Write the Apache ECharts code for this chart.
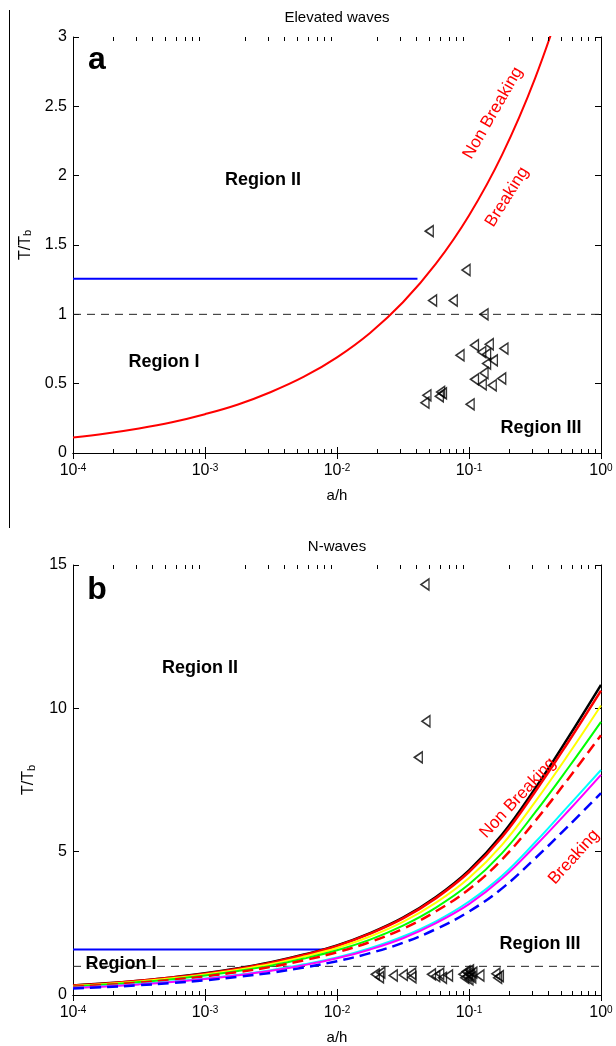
<!DOCTYPE html>
<html><head><meta charset="utf-8">
<script src="https://cdn.jsdelivr.net/npm/echarts@6/dist/echarts.min.js"></script>
<style>html,body{margin:0;padding:0;background:#fff}#c{width:616px;height:1046px}</style>
</head><body><div id="c"></div>
<script>
// ---- data ----
const xMin = 0.0001, xMax = 1;
const xMinorTicks = [0.0002,0.0003,0.0004,0.0005,0.0006,0.0007,0.0008,0.0009,
  0.002,0.003,0.004,0.005,0.006,0.007,0.008,0.009,
  0.02,0.03,0.04,0.05,0.06,0.07,0.08,0.09,
  0.2,0.3,0.4,0.5,0.6,0.7,0.8,0.9];

// Panel a: Elevated waves
const elevCurveX = [0.0001,0.000178,0.000316,0.000562,0.001,0.00178,0.00316,0.00562,0.01,0.0178,0.0316,0.0562,0.1,0.178,0.316,0.562];
const elevCurveY = [0.112,0.141,0.177,0.222,0.280,0.350,0.44,0.55,0.69,0.866,1.087,1.365,1.713,2.15,2.70,3.39];
const elevBlueX = [0.0001,0.0407];
const elevBlueY = 1.257;
const elevPtsX = [0.050,0.095,0.053,0.076,0.13,0.0855,0.11,0.1425,0.184,0.125,0.136,0.153,0.136,0.11,0.13,0.126,0.15,0.177,0.048,0.061,0.0596,0.0464,0.102,0.063];
const elevPtsY = [1.60,1.32,1.10,1.10,1.00,0.705,0.777,0.784,0.753,0.728,0.712,0.668,0.645,0.531,0.577,0.495,0.488,0.537,0.416,0.44,0.409,0.363,0.351,0.43];

// Panel b: N-waves
const nCurveX  = [0.0001,0.000178,0.000316,0.000562,0.001,0.00178,0.00316,0.00562,0.01,0.0178,0.0316,0.0562,0.1,0.178,0.316,0.562,1];
const nBlack   = [0.33,0.406,0.50,0.614,0.755,0.93,1.14,1.41,1.73,2.16,2.70,3.42,4.35,5.6,7.2,8.97,10.82];
const nRed     = [0.33,0.40,0.495,0.61,0.745,0.92,1.13,1.395,1.71,2.14,2.67,3.38,4.29,5.51,7.08,8.81,10.62];
const nYellow  = [0.313,0.386,0.475,0.583,0.717,0.883,1.08,1.34,1.64,2.04,2.55,3.22,4.08,5.24,6.73,8.37,10.10];
const nGreen   = [0.297,0.365,0.45,0.553,0.68,0.837,1.025,1.27,1.56,1.93,2.42,3.05,3.86,4.95,6.36,7.91,9.53];
const nRedDash = [0.284,0.35,0.43,0.528,0.65,0.80,0.98,1.21,1.49,1.85,2.31,2.92,3.69,4.73,6.06,7.53,9.06];
const nCyan    = [0.25,0.31,0.38,0.467,0.574,0.707,0.866,1.07,1.31,1.63,2.04,2.57,3.26,4.16,5.32,6.58,7.85];
const nMagenta = [0.244,0.30,0.37,0.454,0.559,0.688,0.843,1.04,1.28,1.59,1.98,2.51,3.17,4.06,5.19,6.41,7.68];
const nBlueDash= [0.224,0.276,0.34,0.418,0.513,0.632,0.775,0.96,1.18,1.46,1.82,2.30,2.91,3.72,4.76,5.88,7.04];
const nBlueX = [0.0001,0.0081];
const nBlueY = 1.59;
const nPtsX = [0.0195,0.021,0.0215,0.0267,0.0318,0.0368,0.037,0.052,0.056,0.06,0.063,0.07,0.09,0.093,0.095,0.097,0.099,0.1,0.101,0.103,0.105,0.107,0.121,0.16,0.165,0.17,0.0464,0.0472,0.0413];
const nPtsY = [0.72,0.62,0.78,0.68,0.70,0.74,0.62,0.72,0.66,0.74,0.60,0.68,0.72,0.60,0.82,0.66,0.75,0.55,0.86,0.70,0.62,0.78,0.68,0.74,0.60,0.66,14.32,9.55,8.29];

// ---- chart ----
const FONT = '"Liberation Sans", Arial, Helvetica, sans-serif';
const zip = (xs, ys) => xs.map((x, i) => [x, ys[i]]);
const AXC = '#000';

function xAxes(grid) {
  return [{
    gridIndex: grid, type: 'log', logBase: 10, min: xMin, max: xMax, position: 'bottom',
    axisLine: {lineStyle: {color: AXC, width: 1}},
    axisTick: {inside: true, length: 6, lineStyle: {color: AXC}},
    splitLine: {show: false},
    axisLabel: {
      margin: 10, color: '#000', fontFamily: FONT,
      formatter: v => '{b|10}{s|' + Math.round(Math.log10(v)) + '}',
      rich: {b: {fontSize: 16, fontFamily: FONT, color: '#000', verticalAlign: 'bottom'},
             s: {fontSize: 10, fontFamily: FONT, color: '#000', verticalAlign: 'top'}}
    },
    name: 'a/h', nameLocation: 'middle', nameGap: 35,
    nameTextStyle: {fontSize: 15, fontFamily: FONT, color: '#000'}
  }, {
    gridIndex: grid, type: 'log', logBase: 10, min: xMin, max: xMax, position: 'top',
    axisLine: {lineStyle: {color: AXC, width: 1}},
    axisTick: {inside: true, length: 6, lineStyle: {color: AXC}},
    splitLine: {show: false}, axisLabel: {show: false}
  }];
}
function yAxes(grid, max, interval) {
  return [{
    gridIndex: grid, type: 'value', min: 0, max: max, interval: interval, position: 'left',
    axisLine: {show: true, lineStyle: {color: AXC, width: 1}},
    axisTick: {show: true, inside: true, length: 6, lineStyle: {color: AXC}},
    splitLine: {show: false},
    axisLabel: {margin: 6, fontSize: 16, fontFamily: FONT, color: '#000'},
    name: 'T/T{sub|b}', nameLocation: 'middle', nameGap: 36, nameRotate: 90,
    nameTextStyle: {fontSize: 16, fontFamily: FONT, color: '#000',
      rich: {sub: {fontSize: 11, fontFamily: FONT, color: '#000', verticalAlign: 'bottom'}}}
  }, {
    gridIndex: grid, type: 'value', min: 0, max: max, interval: interval, position: 'right',
    axisLine: {show: true, lineStyle: {color: AXC, width: 1}},
    axisTick: {show: true, inside: true, length: 6, lineStyle: {color: AXC}},
    splitLine: {show: false}, axisLabel: {show: false}
  }];
}
function minorTickSeries(xi, yi) {
  return {
    type: 'custom', xAxisIndex: xi, yAxisIndex: yi, silent: true, clip: false, z: 5,
    data: xMinorTicks.map(v => [v, 0]),
    renderItem: (params, api) => {
      const cs = params.coordSys;
      const x = Math.round(api.coord([api.value(0), api.value(1)])[0]) + 0.5;
      const b = cs.y + cs.height, t = cs.y;
      const st = {stroke: '#000', lineWidth: 1};
      return {type: 'group', children: [
        {type: 'line', shape: {x1: x, y1: b, x2: x, y2: b - 4}, style: st},
        {type: 'line', shape: {x1: x, y1: t, x2: x, y2: t + 4}, style: st}
      ]};
    }
  };
}
function line(xi, yi, data, color, width, type, z, smooth) {
  return {type: 'line', xAxisIndex: xi, yAxisIndex: yi, data: data, showSymbol: false,
    smooth: smooth || false, silent: true, z: z || 2,
    lineStyle: {color: color, width: width, type: type || 'solid', join: 'round'}};
}
function scatter(xi, yi, data) {
  return {type: 'scatter', xAxisIndex: xi, yAxisIndex: yi, data: data, silent: true, z: 4,
    symbol: 'triangle', symbolRotate: 90, symbolSize: [11, 8],
    itemStyle: {color: 'rgba(0,0,0,0)', borderColor: '#000', borderWidth: 1.5}};
}

const dash = [11, 6];
const S = 0.4;
const option = {
  animation: false,
  backgroundColor: '#fff',
  grid: [
    {left: 73, right: 15, top: 37, height: 416},
    {left: 73, right: 15, top: 565, height: 433}
  ],
  xAxis: [...xAxes(0), ...xAxes(1)],
  yAxis: [...yAxes(0, 3, 0.5), ...yAxes(1, 15, 5)],
  series: [
    minorTickSeries(0, 0), minorTickSeries(2, 2),
    // panel a
    line(0, 0, [[xMin, 1], [xMax, 1]], '#222', 1, [8, 6], 1),
    line(0, 0, elevBlueX.map(x => [x, elevBlueY]), '#0000ff', 2, 'solid', 2),
    line(0, 0, zip(elevCurveX, elevCurveY), '#ff0000', 2, 'solid', 3, S),
    scatter(0, 0, zip(elevPtsX, elevPtsY)),
    // panel b
    line(2, 2, [[xMin, 1], [xMax, 1]], '#222', 1, [8, 6], 1),
    line(2, 2, nBlueX.map(x => [x, nBlueY]), '#0000ff', 2, 'solid', 2),
    line(2, 2, zip(nCurveX, nBlack), '#000000', 2.5, 'solid', 2, S),
    line(2, 2, zip(nCurveX, nRed), '#ff0000', 2.5, 'solid', 2, S),
    line(2, 2, zip(nCurveX, nYellow), '#ffff00', 2, 'solid', 2, S),
    line(2, 2, zip(nCurveX, nGreen), '#00ff00', 2, 'solid', 2, S),
    line(2, 2, zip(nCurveX, nRedDash), '#ff0000', 2.5, dash, 2, S),
    line(2, 2, zip(nCurveX, nCyan), '#00ffff', 2, 'solid', 2, S),
    line(2, 2, zip(nCurveX, nMagenta), '#ff00ff', 2, 'solid', 2, S),
    line(2, 2, zip(nCurveX, nBlueDash), '#0000ff', 2.5, dash, 2, S),
    scatter(2, 2, zip(nPtsX, nPtsY))
  ],
  graphic: [
    {type: 'line', shape: {x1: 9.5, y1: 10, x2: 9.5, y2: 528}, style: {stroke: '#000', lineWidth: 1}},
    txt('Elevated waves', 337, 18, 15, 'normal', '#000', 0),
    txt('N-waves', 337, 547, 15, 'normal', '#000', 0),
    txt('a', 97, 60, 32, 'bold', '#000', 0),
    txt('b', 97, 590, 32, 'bold', '#000', 0),
    txt('Region II', 263, 180, 18, 'bold', '#000', 0),
    txt('Region I', 164, 362, 18, 'bold', '#000', 0),
    txt('Region III', 541, 428, 18, 'bold', '#000', 0),
    txt('Region II', 200, 668, 18, 'bold', '#000', 0),
    txt('Region I', 121, 964, 18, 'bold', '#000', 0),
    txt('Region III', 540, 944, 18, 'bold', '#000', 0),
    txt('Non Breaking', 493, 113, 17, 'normal', '#ff0000', 60),
    txt('Breaking', 507, 197, 17, 'normal', '#ff0000', 58),
    txt('Non Breaking', 518, 798, 17, 'normal', '#ff0000', 47),
    txt('Breaking', 574, 857, 17, 'normal', '#ff0000', 48)
  ]
};
function txt(t, x, y, size, weight, color, rotDeg) {
  return {type: 'text', x: x, y: y, rotation: rotDeg * Math.PI / 180, z: 10,
    style: {text: t, fill: color, font: weight + ' ' + size + 'px ' + FONT,
      textAlign: 'center', textVerticalAlign: 'middle'}};
}
const chart = echarts.init(document.getElementById('c'), null, {renderer: 'canvas'});
chart.setOption(option);
</script>
</body></html>
